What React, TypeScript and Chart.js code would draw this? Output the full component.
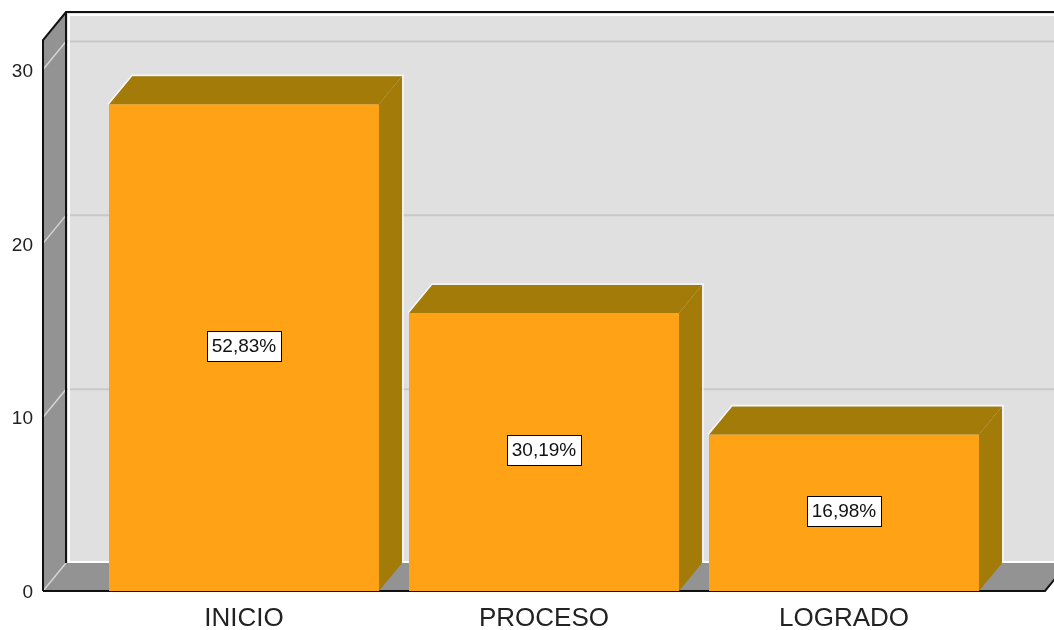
import React, { useEffect, useRef } from 'react';
import { Chart, registerables } from 'chart.js';

Chart.register(...registerables);

const categories = ['INICIO', 'PROCESO', 'LOGRADO'];
const counts = [28, 16, 9];
const yTickValues = [0, 10, 20, 30];
const yMax = 31.7;

const FRONT = '#FFA216';
const DARK = '#A37B09';
const WALL_BACK = '#E0E0E0';
const WALL_SIDE = '#939393';
const DEPTH_X = 23;
const DEPTH_Y = -28;
const SIDE_MARGIN = 51;
const FONT = '"Liberation Sans", Arial, Helvetica, sans-serif';

const total = counts.reduce((a, b) => a + b, 0);
const percentLabels = counts.map((c) => (c / total * 100).toFixed(2).replace('.', ',') + '%');

function poly(ctx: CanvasRenderingContext2D, pts: number[][]) {
  ctx.beginPath();
  ctx.moveTo(pts[0][0], pts[0][1]);
  for (let i = 1; i < pts.length; i++) ctx.lineTo(pts[i][0], pts[i][1]);
}

const box3dPlugin = {
  id: 'box3d',
  beforeDatasetsDraw(chart: any) {
    const { ctx, chartArea: ca, scales } = chart;
    const y = scales.y;
    const fl = ca.left - SIDE_MARGIN;
    const fr = ca.right + SIDE_MARGIN;
    const ft = ca.top;
    const fb = y.getPixelForValue(0);
    const bl = fl + DEPTH_X;
    const br = fr + DEPTH_X;
    const bt = ft + DEPTH_Y;
    const bb = fb + DEPTH_Y;
    ctx.save();
    // back wall
    ctx.fillStyle = WALL_BACK;
    ctx.fillRect(bl, bt, br - bl, bb - bt);
    // back wall gridlines
    ctx.strokeStyle = '#c8c8c8';
    ctx.lineWidth = 2;
    yTickValues.forEach((v) => {
      if (v <= 0) return;
      const py = y.getPixelForValue(v) + DEPTH_Y;
      poly(ctx, [[bl, py], [br, py]]);
      ctx.stroke();
    });
    // white inset border
    ctx.strokeStyle = '#ffffff';
    ctx.lineWidth = 2;
    poly(ctx, [[br, bt + 3], [bl + 3, bt + 3], [bl + 3, bb - 1], [br, bb - 1]]);
    ctx.stroke();
    // left wall and floor
    ctx.fillStyle = WALL_SIDE;
    poly(ctx, [[fl, ft], [bl, bt], [bl, bb], [fl, fb]]);
    ctx.closePath();
    ctx.fill();
    poly(ctx, [[fl, fb], [bl, bb], [br, bb], [fr, fb]]);
    ctx.closePath();
    ctx.fill();
    // left wall diagonal grid lines
    ctx.strokeStyle = '#d4d4d4';
    ctx.lineWidth = 1.5;
    yTickValues.forEach((v) => {
      const py = y.getPixelForValue(v);
      poly(ctx, [[fl, py], [bl, py + DEPTH_Y]]);
      ctx.stroke();
    });
    // dark edges
    ctx.strokeStyle = '#111111';
    ctx.lineWidth = 2;
    ctx.lineJoin = 'miter';
    poly(ctx, [[fl, fb], [fl, ft], [bl, bt], [br, bt]]);
    ctx.stroke();
    poly(ctx, [[bl, bt], [bl, bb]]);
    ctx.stroke();
    poly(ctx, [[fl, fb], [fr, fb], [br, bb]]);
    ctx.stroke();
    ctx.restore();
  },
  afterDatasetsDraw(chart: any) {
    const { ctx } = chart;
    const meta = chart.getDatasetMeta(0);
    ctx.save();
    meta.data.forEach((el: any, i: number) => {
      const { x, y: top, base, width } = el.getProps(['x', 'y', 'base', 'width'], true);
      const left = x - width / 2;
      const right = x + width / 2;
      ctx.fillStyle = DARK;
      poly(ctx, [[left, top], [left + DEPTH_X, top + DEPTH_Y], [right + DEPTH_X, top + DEPTH_Y], [right, top]]);
      ctx.closePath();
      ctx.fill();
      poly(ctx, [[right, top], [right + DEPTH_X, top + DEPTH_Y], [right + DEPTH_X, base + DEPTH_Y], [right, base]]);
      ctx.closePath();
      ctx.fill();
      ctx.strokeStyle = '#f6f6f6';
      ctx.lineWidth = 1.5;
      poly(ctx, [[left - 1, top], [left + DEPTH_X, top + DEPTH_Y - 1], [right + DEPTH_X + 1, top + DEPTH_Y - 1], [right + DEPTH_X + 1, base + DEPTH_Y]]);
      ctx.stroke();

      // percentage label box
      ctx.font = `19px ${FONT}`;
      const text = percentLabels[i];
      const tw = ctx.measureText(text).width;
      const w = Math.round(tw + 10);
      const h = 30;
      const cx = x;
      const cy = (top + base) / 2 - 2;
      const bx = Math.round(cx - w / 2) + 0.5;
      const by = Math.round(cy - h / 2) + 0.5;
      ctx.fillStyle = '#ffffff';
      ctx.fillRect(bx, by, w, h);
      ctx.strokeStyle = '#000000';
      ctx.lineWidth = 1;
      ctx.strokeRect(bx, by, w, h);
      ctx.fillStyle = '#111111';
      ctx.textAlign = 'center';
      ctx.textBaseline = 'middle';
      ctx.fillText(text, cx, cy + 1);
    });
    ctx.restore();
  },
};

export default function App() {
  const ref = useRef<HTMLCanvasElement | null>(null);
  useEffect(() => {
    if (!ref.current) return;
    const chart = new Chart(ref.current, {
      type: 'bar',
      data: {
        labels: categories,
        datasets: [
          {
            data: counts,
            backgroundColor: FRONT,
            borderWidth: 0,
            barPercentage: 0.9,
            categoryPercentage: 1,
          },
        ],
      },
      options: {
        animation: false,
        responsive: false,
        events: [],
        layout: { padding: { left: 8, right: 60, top: 40, bottom: 0 } },
        plugins: { legend: { display: false }, tooltip: { enabled: false } },
        scales: {
          x: {
            grid: { display: false, drawTicks: false },
            border: { display: false },
            ticks: { font: { family: FONT, size: 26 }, color: '#222222', padding: 12 },
            afterFit: (s: any) => { s.height = 39; s.paddingLeft = 0; s.paddingRight = 0; },
          },
          y: {
            min: 0,
            max: yMax,
            grid: { display: false, drawTicks: false },
            border: { display: false },
            afterBuildTicks: (s: any) => { s.ticks = yTickValues.map((v) => ({ value: v })); },
            ticks: { font: { family: FONT, size: 19 }, color: '#222222', padding: 61, labelOffset: 2 },
            afterFit: (s: any) => { s.width = 86; s.paddingTop = 0; s.paddingBottom = 0; },
          },
        },
      },
      plugins: [box3dPlugin],
    });
    return () => chart.destroy();
  }, []);
  return (
    <div style={{ position: 'fixed', left: 0, top: 0, width: 1054, height: 630, background: '#ffffff' }}>
      <canvas ref={ref} width={1054} height={630} style={{ display: 'block' }} />
    </div>
  );
}
